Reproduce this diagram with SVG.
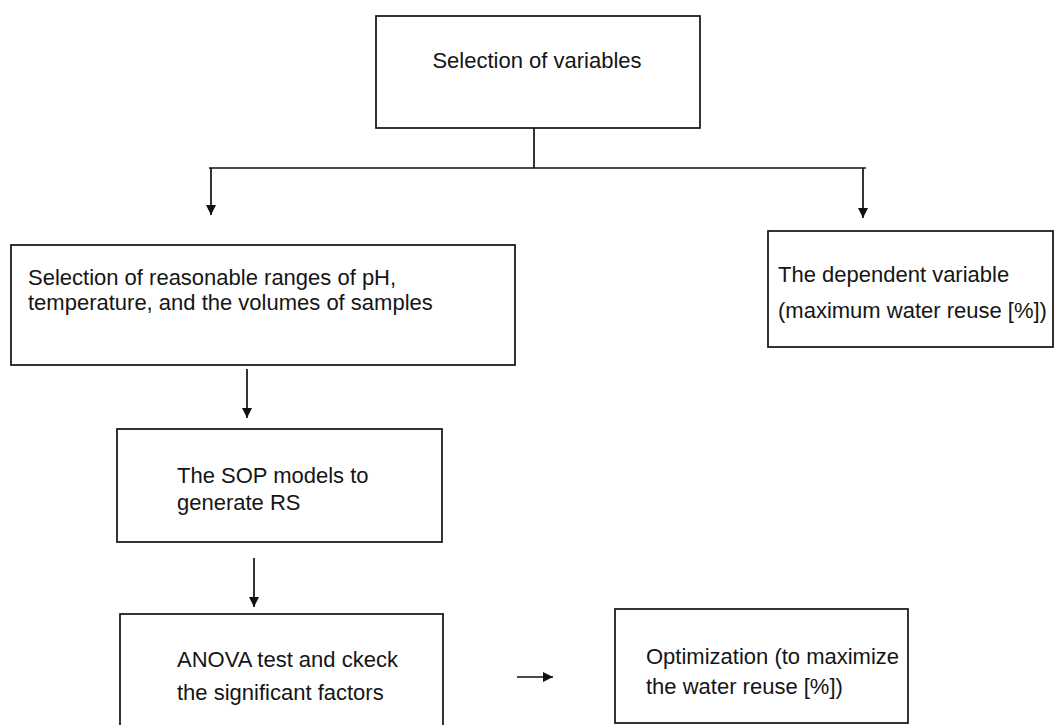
<svg xmlns="http://www.w3.org/2000/svg" width="1056" height="725" viewBox="0 0 1056 725">
  <style>
    .box { fill: #ffffff; stroke: #111111; stroke-width: 1.7; }
    .lbl { font-family: "Liberation Sans", Arial, sans-serif; font-size: 22px; fill: #151515; }
    .wire { fill: none; stroke: #111111; stroke-width: 1.7; }
  </style>
  <defs>
    <marker id="arrow" markerUnits="userSpaceOnUse" markerWidth="10" markerHeight="14" viewBox="0 0 10 14" refX="10" refY="7" orient="auto">
      <path d="M0,2 L10,7 L0,12 Z" fill="#111111"/>
    </marker>
  </defs>

  <rect width="1056" height="725" fill="#ffffff"/>

  <!-- connectors -->
  <g id="connectors">
    <path class="wire" d="M534,128 V168"/>
    <path class="wire" d="M209,168 H866"/>
    <path class="wire" d="M211,168 V215" marker-end="url(#arrow)"/>
    <path class="wire" d="M863,168 V218" marker-end="url(#arrow)"/>
    <path class="wire" d="M247,369 V418" marker-end="url(#arrow)"/>
    <path class="wire" d="M254,558 V607" marker-end="url(#arrow)"/>
    <path class="wire" d="M517,677 H553" marker-end="url(#arrow)"/>
  </g>

  <!-- start: choice of variables -->
  <g id="node-variables">
    <rect class="box" x="376" y="16" width="324" height="112"/>
    <text class="lbl" x="537" y="68" text-anchor="middle">Selection of variables</text>
  </g>

  <!-- independent variable ranges -->
  <g id="node-ranges">
    <rect class="box" x="11" y="245" width="504" height="120"/>
    <text class="lbl" x="28" y="285">Selection of reasonable ranges of pH,</text>
    <text class="lbl" x="28" y="310">temperature, and the volumes of samples</text>
  </g>

  <!-- response variable -->
  <g id="node-dependent">
    <rect class="box" x="768" y="231" width="285" height="116"/>
    <text class="lbl" x="778" y="282">The dependent variable</text>
    <text class="lbl" x="778" y="318">(maximum water reuse [%])</text>
  </g>

  <!-- response surface models -->
  <g id="node-sop">
    <rect class="box" x="117" y="429" width="325" height="113"/>
    <text class="lbl" x="177" y="483">The SOP models to</text>
    <text class="lbl" x="177" y="510">generate RS</text>
  </g>

  <!-- significance test -->
  <g id="node-anova">
    <rect class="box" x="120" y="614" width="323" height="120"/>
    <text class="lbl" x="177" y="667">ANOVA test and ckeck</text>
    <text class="lbl" x="177" y="700">the significant factors</text>
  </g>

  <!-- optimisation -->
  <g id="node-optimization">
    <rect class="box" x="615" y="609" width="293" height="114"/>
    <text class="lbl" x="646" y="664">Optimization (to maximize</text>
    <text class="lbl" x="646" y="694">the water reuse [%])</text>
  </g>
</svg>
